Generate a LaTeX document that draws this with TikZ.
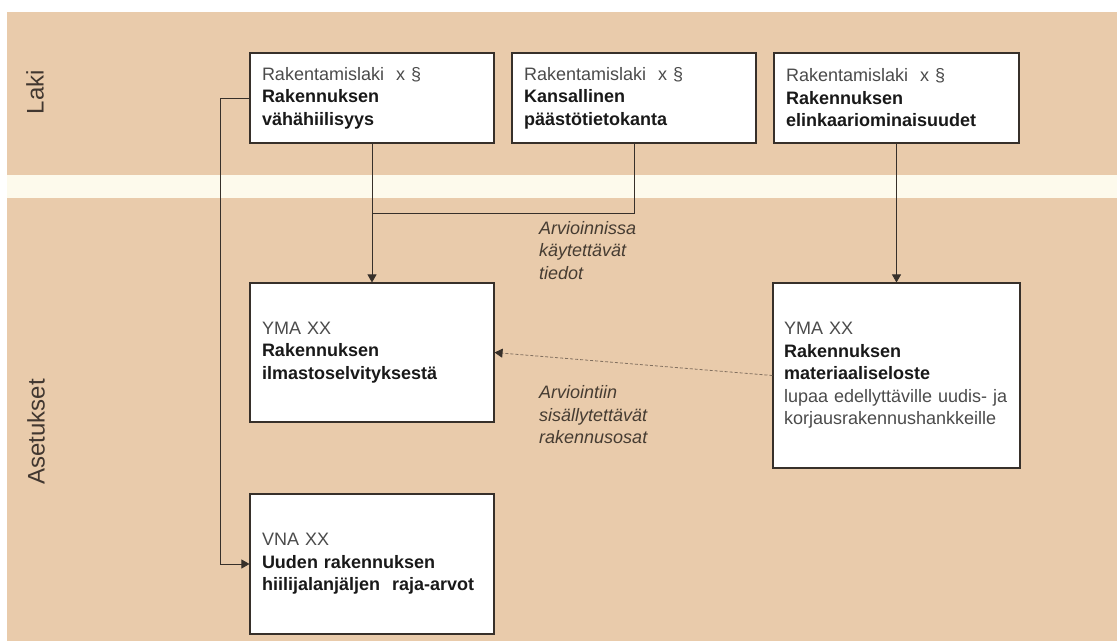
\documentclass[tikz,border=0pt]{standalone}
\usepackage{fontspec}
\setmainfont{Liberation Sans}
\usetikzlibrary{arrows.meta}
\definecolor{tan}{RGB}{233,203,171}
\definecolor{cream}{RGB}{253,250,236}
\definecolor{linec}{RGB}{55,48,42}
\definecolor{dashc}{RGB}{130,112,95}
\definecolor{regtext}{RGB}{75,75,75}
\definecolor{boldtext}{RGB}{25,25,25}
\definecolor{labtext}{RGB}{70,60,50}
\definecolor{sidetext}{RGB}{65,55,48}
\tikzset{
  lawbox/.style={draw=linec, line width=1.1pt, fill=white, rectangle,
    inner xsep=12pt, inner ysep=0pt, align=left, text=boldtext,
    font=\fontsize{18}{22.5}\selectfont},
  conn/.style={draw=linec, line width=0.8pt},
  tip/.style={-{Triangle[length=8pt,width=9pt]}},
  dashconn/.style={draw=dashc, line width=0.8pt, dash pattern=on 3pt off 2pt,
    -{Triangle[length=8pt,width=9pt,color=linec]}},
  lab/.style={align=left, inner sep=0pt, anchor=west, text=labtext,
    font=\fontsize{18}{22.5}\selectfont\itshape},
  side/.style={rotate=90, inner sep=0pt, text=sidetext,
    font=\fontsize{24}{28}\selectfont}
}
\newcommand{\reg}[1]{{\color{regtext}\mdseries #1}}
\begin{document}
\begin{tikzpicture}[x=1pt,y=-1pt]
\useasboundingbox (0,0) rectangle (1117,641);
% background
\fill[white] (0,0) rectangle (1117,641);
\fill[tan] (7,12) rectangle (1117,641);
\fill[cream] (7,175) rectangle (1117,198);
% side labels
\node[side] (laki) at (35,92) {Laki};
\node[side] (aset) at (36,432) {Asetukset};
% law boxes
\node[lawbox, minimum width=244pt, minimum height=90pt, text width=220pt] (b1) at (372,98)
  {\reg{Rakentamislaki\ \ x §}\\ \textbf{Rakennuksen}\\ \textbf{vähähiilisyys}};
\node[lawbox, minimum width=244pt, minimum height=90pt, text width=220pt] (b2) at (634,98)
  {\reg{Rakentamislaki\ \ x §}\\ \textbf{Kansallinen}\\ \textbf{päästötietokanta}};
\node[lawbox, minimum width=245pt, minimum height=90pt, text width=221pt] (b3) at (896.5,98)
  {\reg{Rakentamislaki\ \ x §}\\ \textbf{Rakennuksen}\\ \textbf{elinkaariominaisuudet}};
% decree boxes
\node[lawbox, minimum width=244pt, minimum height=139pt, text width=220pt] (b4) at (372,352.5)
  {\reg{YMA XX}\\ \textbf{Rakennuksen}\\ \textbf{ilmastoselvityksestä}};
\node[lawbox, minimum width=247pt, minimum height=185pt, text width=225pt, inner xsep=11pt] (b5) at (896.5,375.5)
  {\reg{YMA XX}\\ \textbf{Rakennuksen}\\ \textbf{materiaaliseloste}\\ \reg{lupaa edellyttäville uudis- ja}\\ \reg{korjausrakennushankkeille}};
\node[lawbox, minimum width=244pt, minimum height=140pt, text width=220pt] (b6) at (372,564)
  {\reg{VNA XX}\\ \textbf{Uuden rakennuksen}\\ \textbf{hiilijalanjäljen\ \ raja-arvot}};
% connectors
\coordinate (join) at (372,213);
\draw[conn, tip] (b1.south) -- (b4.north);
\draw[conn] (b2.south) |- (join);
\draw[conn, tip] (b3.south) -- (b5.north);
\draw[conn, tip] (b1.west) -- ++(-29,0) |- (b6.west);
\draw[dashconn] (b5.west) -- (b4.east);
% labels
\node[lab] (l1) at (539,250.5) {Arvioinnissa\\ käytettävät\\ tiedot};
\node[lab] (l2) at (539,415) {Arviointiin\\ sisällytettävät\\ rakennusosat};
\end{tikzpicture}
\end{document}
